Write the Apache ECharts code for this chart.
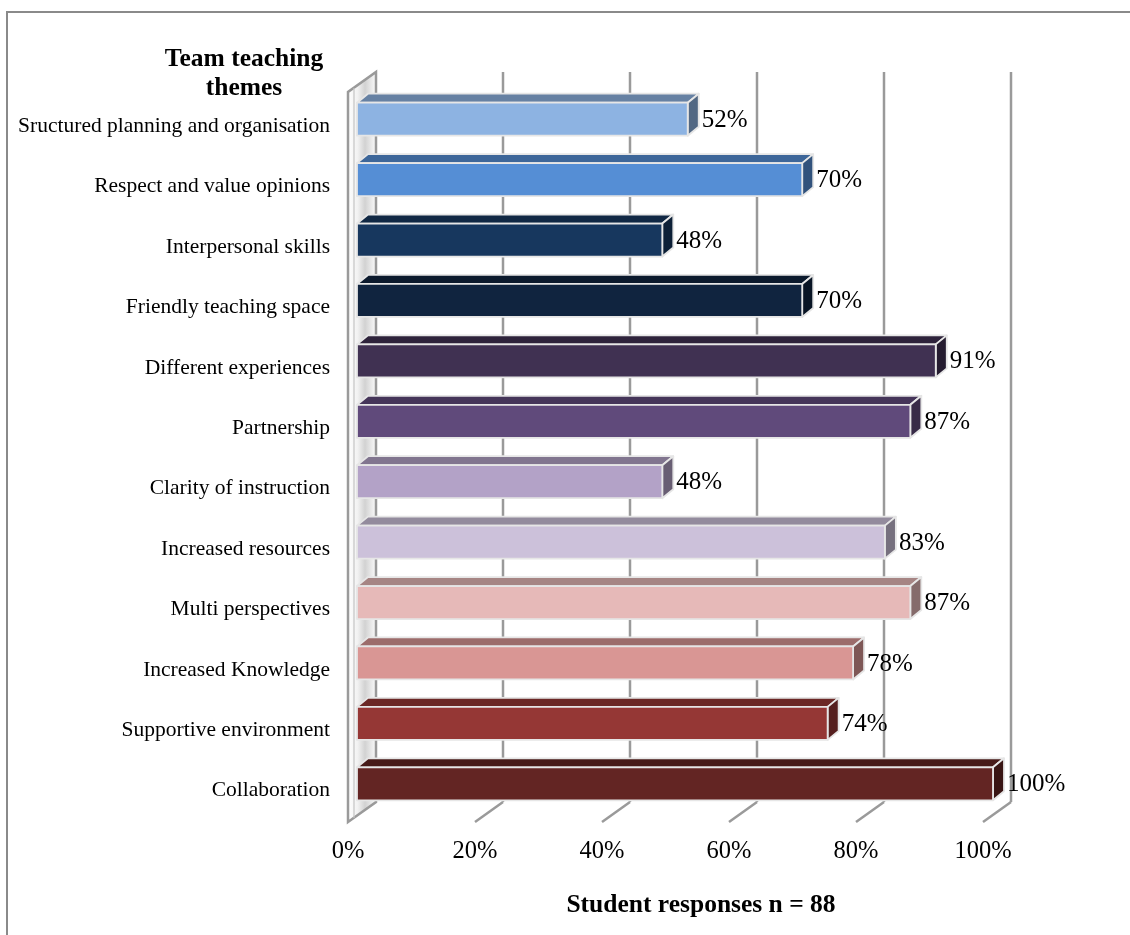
<!DOCTYPE html>
<html>
<head>
<meta charset="utf-8">
<script src="https://cdn.jsdelivr.net/npm/echarts@6/dist/echarts.min.js"></script>
<style>
  html, body { margin: 0; padding: 0; background: #ffffff; }
  #chart { width: 1130px; height: 935px; }
</style>
</head>
<body>
<div id="chart"></div>
<script>
// Team teaching themes, share of student responses (n = 88)
const categories = [
  'Sructured planning and organisation',
  'Respect and value opinions',
  'Interpersonal skills',
  'Friendly teaching space',
  'Different experiences',
  'Partnership',
  'Clarity of instruction',
  'Increased resources',
  'Multi perspectives',
  'Increased Knowledge',
  'Supportive environment',
  'Collaboration'
];
const percentValues = [52, 70, 48, 70, 91, 87, 48, 83, 87, 78, 74, 100];
const barColors = [
  '#8DB3E2', '#558ED5', '#17375E', '#10243F', '#403152', '#604A7B',
  '#B3A2C7', '#CCC1DA', '#E6B9B8', '#D99694', '#953735', '#632523'
];
const axisTicks = [0, 20, 40, 60, 80, 100];

const SERIF = "'Liberation Serif', 'Times New Roman', serif";

function shade(hex, k) {
  const n = parseInt(hex.slice(1), 16);
  const r = Math.round(((n >> 16) & 255) * k);
  const g = Math.round(((n >> 8) & 255) * k);
  const b = Math.round((n & 255) * k);
  return 'rgb(' + r + ',' + g + ',' + b + ')';
}

// depth of the floor / back wall and of each bar block
const FLOOR_DX = 28, FLOOR_DY = 20;
const BAR_DX = 11, BAR_DY = 9, BAR_H = 33;
const LABEL_GAP = 27, LABEL_DROP = 7;
const GRID_LINE = '#9a9a9a';

const chart = echarts.init(document.getElementById('chart'));

const option = {
  backgroundColor: '#ffffff',
  animation: false,
  grid: [
    // bars
    { left: 357, width: 636, top: 89, height: 725 },
    // floor, back wall and percentage scale
    { left: 348, width: 635, top: 72, height: 750 }
  ],
  xAxis: [
    { type: 'value', gridIndex: 0, min: 0, max: 100, show: false },
    {
      type: 'value', gridIndex: 1, min: 0, max: 100, interval: 20,
      axisLine: { show: false }, axisTick: { show: false }, splitLine: { show: false },
      axisLabel: {
        formatter: '{value}%', color: '#000', fontFamily: SERIF, fontSize: 24.5, margin: 17
      }
    }
  ],
  yAxis: [
    {
      type: 'category', gridIndex: 0, data: categories, inverse: true,
      axisLine: { show: false }, axisTick: { show: false }, splitLine: { show: false },
      axisLabel: { show: false }
    },
    { type: 'value', gridIndex: 1, min: 0, max: 1, show: false }
  ],
  graphic: [
    {
      type: 'polyline', silent: true,
      shape: { points: [[7, 935], [7, 12], [1130, 12]] },
      style: { stroke: '#8a8a8a', lineWidth: 2, fill: null }
    },
    {
      type: 'text', silent: true, x: 244, y: 45,
      style: {
        text: 'Team teaching\nthemes', align: 'center',
        font: 'bold 25.5px ' + SERIF, fill: '#000', lineHeight: 29
      }
    },
    {
      type: 'text', silent: true, x: 701, y: 905,
      style: {
        text: 'Student responses n = 88', align: 'center', verticalAlign: 'middle',
        font: 'bold 25.5px ' + SERIF, fill: '#000'
      }
    }
  ],
  series: [
    // side wall
    {
      type: 'custom', xAxisIndex: 1, yAxisIndex: 1, z: 1, silent: true,
      data: [[0]],
      renderItem: function (params, api) {
        const fb = api.coord([0, 0]);
        const ft = api.coord([0, 1]);
        const bx = fb[0] + FLOOR_DX;
        const pts = [
          [fb[0], fb[1]], [bx, fb[1] - FLOOR_DY], [bx, ft[1]], [fb[0], ft[1] + FLOOR_DY]
        ];
        return {
          type: 'group',
          children: [
            {
              type: 'polygon', shape: { points: pts },
              style: {
                fill: new echarts.graphic.LinearGradient(0, 0, 1, 0, [
                  { offset: 0, color: '#ffffff' },
                  { offset: 0.35, color: '#f2f2f2' },
                  { offset: 0.6, color: '#d2d2d2' },
                  { offset: 1, color: '#ffffff' }
                ]),
                stroke: GRID_LINE, lineWidth: 2.5
              }
            },
            {
              type: 'line',
              shape: { x1: fb[0] + 6, y1: ft[1] + FLOOR_DY - 4, x2: fb[0] + 6, y2: fb[1] - 4 },
              style: { stroke: '#c4c4c4', lineWidth: 1.2 }
            }
          ]
        };
      }
    },
    // floor ticks and back-wall grid lines
    {
      type: 'custom', xAxisIndex: 1, yAxisIndex: 1, z: 2, silent: true,
      data: axisTicks.slice(1).map(function (t) { return [t]; }),
      renderItem: function (params, api) {
        const v = api.value(0);
        const f = api.coord([v, 0]);
        const top = api.coord([v, 1])[1];
        const bx = f[0] + FLOOR_DX;
        const by = f[1] - FLOOR_DY;
        return {
          type: 'group',
          children: [
            { type: 'line', shape: { x1: f[0], y1: f[1], x2: bx, y2: by },
              style: { stroke: GRID_LINE, lineWidth: 2.5 } },
            { type: 'line', shape: { x1: bx, y1: by, x2: bx, y2: top },
              style: { stroke: GRID_LINE, lineWidth: 2.5 } }
          ]
        };
      }
    },
    // bar blocks with value labels and category names
    {
      type: 'custom', xAxisIndex: 0, yAxisIndex: 0, z: 5, silent: true,
      data: percentValues.map(function (v, i) { return [v, i]; }),
      renderItem: function (params, api) {
        const v = api.value(0);
        const i = api.value(1);
        const x0 = api.coord([0, i])[0];
        const p = api.coord([v, i]);
        const x1 = p[0];
        const yc = p[1];
        const t = yc - BAR_H / 2;
        const b = yc + BAR_H / 2;
        const c = barColors[i];
        const edge = { stroke: '#e6e6e6', lineWidth: 1.8, lineJoin: 'round' };
        return {
          type: 'group',
          children: [
            { type: 'polygon',
              shape: { points: [[x0, t], [x0 + BAR_DX, t - BAR_DY], [x1 + BAR_DX, t - BAR_DY], [x1, t]] },
              style: Object.assign({ fill: shade(c, 0.72) }, edge) },
            { type: 'polygon',
              shape: { points: [[x1, t], [x1 + BAR_DX, t - BAR_DY], [x1 + BAR_DX, b - BAR_DY], [x1, b]] },
              style: Object.assign({ fill: shade(c, 0.58) }, edge) },
            { type: 'rect',
              shape: { x: x0, y: t, width: x1 - x0, height: BAR_H },
              style: Object.assign({ fill: c }, edge) },
            { type: 'text',
              style: {
                x: x1 + BAR_DX + 3, y: yc + 1, text: v + '%',
                align: 'left', verticalAlign: 'middle',
                font: '25px ' + SERIF, fill: '#000'
              } },
            { type: 'text',
              style: {
                x: x0 - LABEL_GAP, y: yc + LABEL_DROP, text: categories[i],
                align: 'right', verticalAlign: 'middle',
                font: '21.5px ' + SERIF, fill: '#000'
              } }
          ]
        };
      }
    }
  ]
};

chart.setOption(option);
</script>
</body>
</html>
